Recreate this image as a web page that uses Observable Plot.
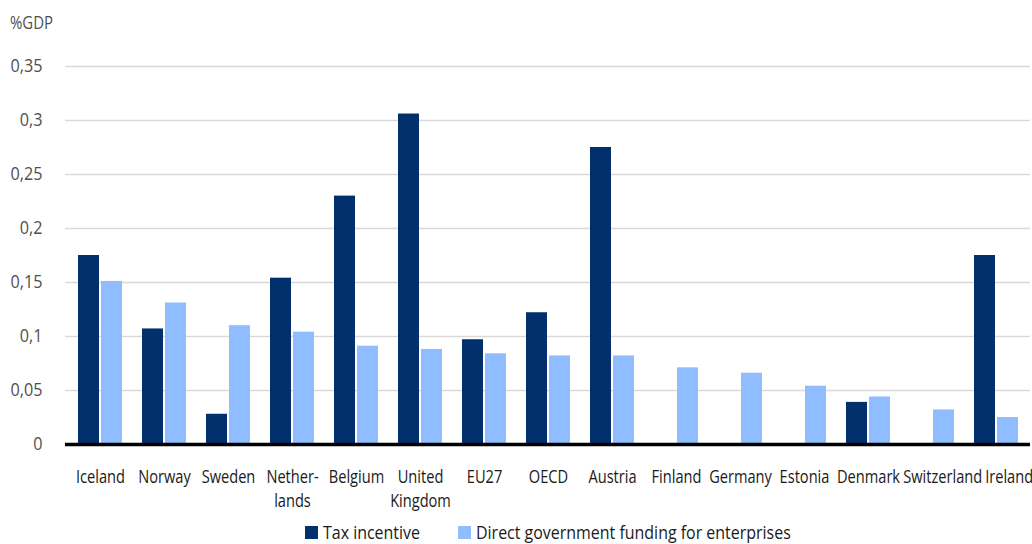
<!DOCTYPE html>
<html>
<head>
<meta charset="utf-8">
<script src="https://cdn.jsdelivr.net/npm/d3@7"></script>
<script src="https://cdn.jsdelivr.net/npm/@observablehq/plot@0.6"></script>
<style>
  html, body { margin: 0; padding: 0; background: #fff; }
  body { width: 1032px; height: 544px; position: relative; overflow: hidden;
         font-family: "Open Sans", "Noto Sans", sans-serif; font-weight: 500; }
  #ylabel { position: absolute; left: 10px; top: 9px; font-size: 18.5px; color: #505050;
            transform-origin: left center; white-space: nowrap; }
  #legend { display: flex; justify-content: center; align-items: center; gap: 38px;
            padding-left: 65px; padding-right: 2px; height: 40px; font-size: 19px; color: #1a1a1a; }
  .item { display: flex; align-items: center; gap: 5px; }
  .sw { width: 13px; height: 13px; display: inline-block; }
  .txt { display: inline-block; white-space: nowrap; overflow: visible; }
  .txt span { display: inline-block; transform-origin: left center; }
  svg text { font-weight: 500; }
</style>
</head>
<body>
<div id="ylabel">%GDP</div>
<div id="chart"></div>
<div id="legend"></div>
<script>
const countries = ["Iceland","Norway","Sweden","Netherlands","Belgium","United Kingdom","EU27","OECD","Austria","Finland","Germany","Estonia","Denmark","Switzerland","Ireland"];
const countryLabels = ["Iceland","Norway","Sweden","Nether-\nlands","Belgium","United\nKingdom","EU27","OECD","Austria","Finland","Germany","Estonia","Denmark","Switzerland","Ireland"];
const series = ["Tax incentive","Direct government funding for enterprises"];
const taxIncentive = [0.175,0.107,0.028,0.154,0.230,0.306,0.097,0.122,0.275,null,null,null,0.039,null,0.175];
const directFunding = [0.151,0.131,0.110,0.104,0.091,0.088,0.084,0.082,0.082,0.071,0.066,0.054,0.044,0.032,0.025];
const yTicks = [0,0.05,0.1,0.15,0.2,0.25,0.3,0.35];
const colors = ["#02306c","#8fbdff"];

const FONT = '"Open Sans", "Noto Sans", sans-serif';
const labelOf = new Map(countries.map((c,i)=>[c,countryLabels[i]]));
const taxData = countries.map((c,i)=>({country:c, series:series[0], value:taxIncentive[i]})).filter(d=>d.value!=null);
const dirData = countries.map((c,i)=>({country:c, series:series[1], value:directFunding[i]}));
const fmt = v => String(v).replace(".", ",");

// measure natural widths to condense text like the reference's narrow face
const ctx = document.createElement("canvas").getContext("2d");
function measure(str, size) { ctx.font = `500 ${size}px ${FONT}`; return ctx.measureText(str).width; }
const sx = 79 / measure("Switzerland", 18.5);
const sy = 32 / measure("0,35", 18.5);
const sl = 97 / measure("Tax incentive", 19);
const sg = 43 / measure("%GDP", 18.5);

const chart = Plot.plot({
  width: 1032,
  height: 512,
  marginLeft: 65,
  marginRight: 2,
  marginTop: 66,
  marginBottom: 68,
  style: {fontFamily: FONT, fontSize: "18.5px", background: "#fff"},
  x: {domain: countries, paddingInner: 0.317, paddingOuter: 0.147, axis: null},
  y: {domain: [0, 0.35], axis: null},
  color: {domain: series, range: colors},
  marks: [
    Plot.gridY(yTicks, {stroke: "#d9d9d9", strokeOpacity: 1, strokeWidth: 1.6}),
    Plot.axisY(yTicks, {tickSize: 0, tickPadding: 23, tickFormat: fmt, fill: "#505050", fontSize: 18.5, label: null}),
    Plot.barY(taxData, {x: "country", y: "value", fill: "series", insetRight: 23}),
    Plot.barY(dirData, {x: "country", y: "value", fill: "series", insetLeft: 23}),
    Plot.ruleY([0], {stroke: "#000", strokeWidth: 3.5}),
    Plot.axisX({tickSize: 0, tickPadding: 21, tickFormat: c => labelOf.get(c), fill: "#1a1a1a", fontSize: 18.5, lineHeight: 1.3, label: null})
  ]
});
document.getElementById("chart").appendChild(chart);

// horizontally condense axis texts
chart.querySelectorAll("text").forEach(t => {
  const g = t.closest("g[aria-label]");
  const label = g ? g.getAttribute("aria-label") : "";
  const s = label.includes("x-axis") ? sx : label.includes("y-axis") ? sy : 1;
  if (s === 1) return;
  const x = +(t.getAttribute("x") || 0), y = +(t.getAttribute("y") || 0);
  let tr = t.getAttribute("transform") || "";
  if (x || y) {
    tr += ` translate(${x},${y})`;
    t.removeAttribute("x"); t.removeAttribute("y");
    t.querySelectorAll("tspan[x]").forEach(ts => ts.setAttribute("x", +ts.getAttribute("x") - x));
  }
  t.setAttribute("transform", tr + ` scale(${s},1)`);
});

// like the original, nudge crowded category labels right so they do not collide
let prevRight = -Infinity;
chart.querySelectorAll('g[aria-label="x-axis tick label"] text').forEach(t => {
  const r = t.getBoundingClientRect();
  const shift = Math.max(0, prevRight + 3 - r.left);
  if (shift > 0) t.setAttribute("transform", `translate(${shift},0) ` + t.getAttribute("transform"));
  prevRight = r.right + shift;
});

document.getElementById("ylabel").style.transform = `scaleX(${sg})`;

const legend = document.getElementById("legend");
series.forEach((s,i)=>{
  const it = document.createElement("div"); it.className = "item";
  const sw = document.createElement("span"); sw.className = "sw"; sw.style.background = colors[i];
  const t = document.createElement("span"); t.className = "txt";
  t.style.width = (measure(s, 19) * sl) + "px";
  const inner = document.createElement("span"); inner.textContent = s;
  inner.style.transform = `scaleX(${sl})`;
  t.appendChild(inner);
  it.appendChild(sw); it.appendChild(t); legend.appendChild(it);
});
</script>
</body>
</html>
